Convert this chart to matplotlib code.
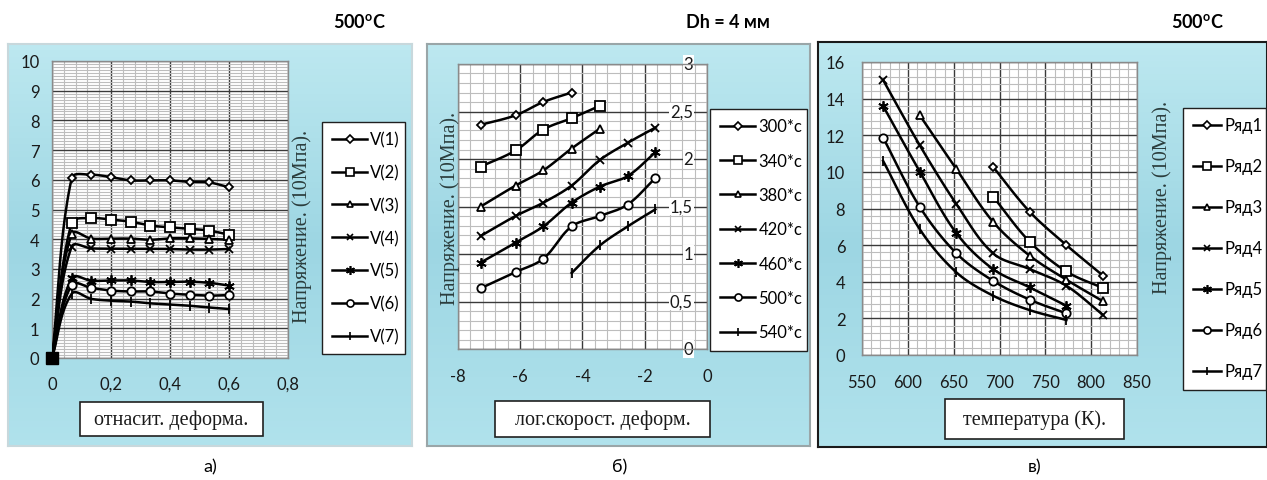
import numpy as np
import matplotlib
matplotlib.use('Agg')
import matplotlib.pyplot as plt
from matplotlib.patches import Rectangle
from matplotlib.lines import Line2D
from matplotlib.colors import LinearSegmentedColormap
import matplotlib.transforms as mtransforms

nan = np.nan
W, H = 1267, 481

# ---- panel a: stress vs relative strain ----
strain = [0, 0.0667, 0.1333, 0.2, 0.2667, 0.3333, 0.4, 0.4667, 0.5333, 0.6]
a_labels = ['V(1)', 'V(2)', 'V(3)', 'V(4)', 'V(5)', 'V(6)', 'V(7)']
v1 = [0, 6.06, 6.17, 6.09, 5.98, 5.98, 5.98, 5.93, 5.91, 5.75]
v2 = [0, 4.55, 4.71, 4.66, 4.59, 4.46, 4.40, 4.35, 4.29, 4.15]
v3 = [0, 4.18, 4.02, 4.02, 4.02, 3.98, 4.03, 4.03, 4.01, 3.98]
v4 = [0, 3.75, 3.69, 3.68, 3.68, 3.68, 3.67, 3.65, 3.65, 3.67]
v5 = [0, 2.69, 2.60, 2.61, 2.61, 2.56, 2.56, 2.57, 2.53, 2.44]
v6 = [0, 2.46, 2.36, 2.27, 2.24, 2.24, 2.17, 2.13, 2.10, 2.12]
v7 = [0, 2.16, 1.99, 1.93, 1.90, 1.84, 1.80, 1.76, 1.70, 1.65]

# ---- panel b: stress vs log strain rate ----
log_rate = [-7.27, -6.15, -5.26, -4.35, -3.44, -2.55, -1.66]
b_labels = ['300*c', '340*c', '380*c', '420*c', '460*c', '500*c', '540*c']
s300 = [2.36, 2.46, 2.60, 2.70, nan, nan, nan]
s340 = [1.92, 2.09, 2.31, 2.43, 2.56, nan, nan]
s380 = [1.50, 1.72, 1.88, 2.11, 2.32, nan, nan]
s420 = [1.19, 1.40, 1.54, 1.72, 1.99, 2.17, 2.33]
s460 = [0.91, 1.12, 1.29, 1.54, 1.71, 1.82, 2.07]
s500 = [0.64, 0.81, 0.95, 1.29, 1.40, 1.52, 1.80]
s540 = [nan, nan, nan, 0.80, 1.09, 1.29, 1.47]

# ---- panel c: stress vs temperature ----
temp_k = [573, 613, 653, 693, 733, 773, 813]
c_labels = ['Ряд1', 'Ряд2', 'Ряд3', 'Ряд4', 'Ряд5', 'Ряд6', 'Ряд7']
r1 = [nan, nan, nan, 10.27, 7.82, 6.00, 4.33]
r2 = [nan, nan, nan, 8.65, 6.18, 4.56, 3.65]
r3 = [nan, 13.09, 10.15, 7.27, 5.42, 4.11, 2.93]
r4 = [15.02, 11.45, 8.24, 5.55, 4.69, 3.78, 2.18]
r5 = [13.60, 10.02, 6.65, 4.69, 3.69, 2.69, nan]
r6 = [11.87, 8.09, 5.55, 4.05, 3.02, 2.27, nan]
r7 = [10.60, 6.87, 4.51, 3.24, 2.45, 1.91, nan]

markers = [('D', 4.5), ('s', 6.5), ('^', 5.5), ('x', 5.5), ((6, 2, 0), 7.5), ('o', 6), ('|', 7)]

SANS = ['Lato', 'DejaVu Sans']
SERIF = ['Liberation Serif', 'DejaVu Serif']
LBL_COLOR = '#2b3d3d'

fig = plt.figure(figsize=(W / 100, H / 100), dpi=100)
fig.patch.set_facecolor('white')


def px_rect(x0, y0, x1, y1):
    return [x0 / W, 1 - y1 / H, (x1 - x0) / W, (y1 - y0) / H]


blue = LinearSegmentedColormap.from_list('water', ['#bde8f0', '#9dd6e3', '#b0e2ec'])


def background(x0, y0, x1, y1, edge):
    bg = fig.add_axes(px_rect(x0, y0, x1, y1))
    grad = np.linspace(0, 1, 64).reshape(-1, 1)
    bg.imshow(grad, aspect='auto', cmap=blue, extent=(0, 1, 0, 1))
    bg.set_xticks([])
    bg.set_yticks([])
    for s in bg.spines.values():
        s.set_color(edge)
        s.set_linewidth(1.5)
    return bg


def smooth(ax, xs, ys, n=24):
    # excel-like smoothed line, built in the pixel space of the axes
    xs = np.asarray(xs, float)
    ys = np.asarray(ys, float)
    ok = ~np.isnan(ys)
    xs, ys = xs[ok], ys[ok]
    bb = ax.get_position()
    xa, xb = ax.get_xlim()
    ya, yb = ax.get_ylim()
    sx = bb.width * W / (xb - xa)
    sy = bb.height * H / (yb - ya)
    p = np.column_stack([xs * sx, ys * sy])
    m = len(p)
    d = np.zeros_like(p)
    for i in range(m):
        a = p[max(i - 1, 0)]
        b = p[min(i + 1, m - 1)]
        v = b - a
        d[i] = v / np.hypot(*v)
    out = [p[0]]
    t = np.linspace(0, 1, n)[1:, None]
    for i in range(m - 1):
        L = np.hypot(*(p[i + 1] - p[i])) / 3
        c1 = p[i] + d[i] * L
        c2 = p[i + 1] - d[i + 1] * L
        seg = ((1 - t) ** 3) * p[i] + 3 * ((1 - t) ** 2) * t * c1 + 3 * (1 - t) * t ** 2 * c2 + t ** 3 * p[i + 1]
        out.extend(seg)
    out = np.array(out)
    return out[:, 0] / sx, out[:, 1] / sy, xs, ys


def draw_series(ax, xs, series, labels):
    handles = []
    for ys, lab, (mk, ms) in zip(series, labels, markers):
        cx, cy, px, py = smooth(ax, xs, ys)
        ax.plot(cx, cy, color='black', lw=1.8, zorder=3)
        ax.plot(px, py, ls='none', marker=mk, ms=ms, mfc='white', mec='black', mew=1.3,
                zorder=4, clip_on=False)
        handles.append(Line2D([], [], color='black', lw=1.8, marker=mk, ms=ms * 0.85,
                              mfc='white', mec='black', mew=1.2))
    return handles


def style_grid(ax, xmaj, xmin, ymaj, ymin):
    ax.set_facecolor('white')
    ax.set_xticks(xmaj)
    ax.set_xticks(xmin, minor=True)
    ax.set_yticks(ymaj)
    ax.set_yticks(ymin, minor=True)
    ax.grid(which='minor', color='#bdbdbd', lw=0.8)
    ax.grid(which='major', color='#3a3a3a', lw=1.0)
    ax.set_axisbelow(True)
    ax.tick_params(which='both', length=0, labelsize=12, labelcolor='#1a1a1a')
    for s in ax.spines.values():
        s.set_color('#8a8a8a')
        s.set_linewidth(1.0)


def comma(v, fmt):
    return (fmt % v).replace('.', ',')


def add_legend(ax, handles, labels, x0, y0, x1, y1, spacing, size=11.5, hl=2.1):
    leg = ax.legend(handles, labels, loc='center', bbox_to_anchor=px_rect(x0, y0, x1, y1),
                    bbox_transform=fig.transFigure, mode='expand', frameon=True, fancybox=False,
                    handlelength=hl, handletextpad=0.2, labelspacing=spacing, borderpad=0.6,
                    borderaxespad=0, prop={'family': SANS, 'size': size})
    fr = leg.get_frame()
    fr.set_edgecolor('#202020')
    fr.set_linewidth(1.0)
    fr.set_facecolor('white')
    fr.set_alpha(1)


def label_box(x0, y0, x1, y1, text):
    fig.patches.append(Rectangle((x0 / W, 1 - y1 / H), (x1 - x0) / W, (y1 - y0) / H,
                                 transform=fig.transFigure, facecolor='white',
                                 edgecolor='#202020', lw=1.2, zorder=5))
    fig.text((x0 + x1) / 2 / W, 1 - (y0 + y1) / 2 / H, text, ha='center', va='center',
             family=SERIF, size=14.5, color='#1a1a1a', zorder=6)


# ================= panel a =================
background(8, 45, 412, 447, '#c8d8dc')
axa = fig.add_axes(px_rect(52, 62, 288, 359))
axa.set_xlim(0, 0.8)
axa.set_ylim(0, 10)
style_grid(axa, np.arange(0, 0.81, 0.2), np.arange(0, 0.81, 0.04),
           np.arange(0, 10.1, 1), np.arange(0, 10.01, 0.1))
axa.set_xticklabels([comma(v, '%.1f') if v > 0 else '0' for v in np.arange(0, 0.81, 0.2)], family=SANS)
axa.set_yticklabels(['%d' % v for v in np.arange(0, 10.1, 1)], family=SANS)
axa.tick_params(axis='x', pad=13)
axa.tick_params(axis='y', pad=9)
ha = draw_series(axa, strain, [v1, v2, v3, v4, v5, v6, v7], a_labels)
# all seven series start at the origin; their markers pile up into a solid block
axa.plot(strain[0], v1[0], ls='none', marker='s', ms=8, color='black', zorder=5, clip_on=False)
add_legend(axa, ha, a_labels, 322, 123, 405, 355, 1.0, size=12)
fig.text(302 / W, 1 - 226 / H, 'Напряжение. (10Мпа).', rotation=90, ha='center', va='center',
         family=SERIF, size=14.5, color=LBL_COLOR)
label_box(80, 403, 263, 437, 'отнасит. деформа.')

# ================= panel b =================
background(427, 45, 810, 447, '#9aa6a8')
axb = fig.add_axes(px_rect(458, 65, 707, 350))
axb.set_xlim(-8, 0)
axb.set_ylim(0, 3)
style_grid(axb, np.arange(-8, 0.1, 2), np.arange(-8, 0.01, 0.4),
           np.arange(0, 3.01, 0.5), np.arange(0, 3.001, 0.1))
axb.set_xticklabels(['%d' % v for v in np.arange(-8, 0.1, 2)], family=SANS)
axb.tick_params(axis='x', pad=14)
axb.set_yticklabels([])
ytr = mtransforms.offset_copy(axb.get_yaxis_transform(), fig=fig, x=-14, y=0, units='dots')
for v in np.arange(0, 3.01, 0.5):
    s = '%d' % v if v == int(v) else comma(v, '%.1f')
    axb.text(1, v, s, transform=ytr, ha='right', va='center', family=SANS, size=12,
             color='#1a1a1a', zorder=2,
             bbox=dict(facecolor='white', edgecolor='none', pad=0.5))
hb = draw_series(axb, log_rate, [s300, s340, s380, s420, s460, s500, s540], b_labels)
add_legend(axb, hb, b_labels, 710, 109, 807, 352, 1.1, size=12)
fig.text(450 / W, 1 - 208 / H, 'Напряжение. (10Мпа).', rotation=90, ha='center', va='center',
         family=SERIF, size=14.5, color=LBL_COLOR)
label_box(495, 402, 710, 438, 'лог.скорост. деформ.')

# ================= panel c =================
background(818, 43, 1267, 448, '#1a1a1a')
axc = fig.add_axes(px_rect(862, 63, 1137, 356))
axc.set_xlim(550, 850)
axc.set_ylim(0, 16)
style_grid(axc, np.arange(550, 851, 50), np.arange(550, 851, 10),
           np.arange(0, 16.1, 2), np.arange(0, 16.01, 0.4))
axc.set_xticklabels(['%d' % v for v in np.arange(550, 851, 50)], family=SANS)
axc.set_yticklabels(['%d' % v for v in np.arange(0, 16.1, 2)], family=SANS)
axc.tick_params(axis='x', pad=14)
axc.tick_params(axis='y', pad=12)
hc = draw_series(axc, temp_k, [r1, r2, r3, r4, r5, r6, r7], c_labels)
add_legend(axc, hc, c_labels, 1183, 108, 1266, 391, 1.5, size=12, hl=1.7)
fig.text(1162 / W, 1 - 197 / H, 'Напряжение. (10Мпа).', rotation=90, ha='center', va='center',
         family=SERIF, size=14.5, color=LBL_COLOR)
label_box(945, 400, 1124, 440, 'температура (К).')

# ================= titles and captions =================
for x, s in [(360, '500$^{\\mathregular{o}}$C'), (728, 'Dh = 4 мм'), (1198, '500$^{\\mathregular{o}}$C')]:
    fig.text(x / W, 1 - 22 / H, s, ha='center', va='center', family=SANS, weight='bold',
             size=13, color='black')
for x, s in [(210, 'а)'), (620, 'б)'), (1035, 'в)')]:
    fig.text(x / W, 1 - 467 / H, s, ha='center', va='center', family=SANS, size=13, color='black')

fig.savefig('out.png', dpi=100)
